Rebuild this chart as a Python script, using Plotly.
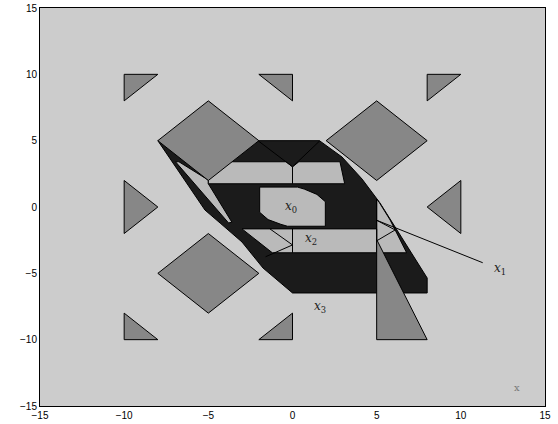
import plotly.graph_objects as go

# ---------------- colours ----------------
BG = "#cccccc"
MID = "#878787"
DARK = "#1b1b1b"
LIGHT = "#bababa"

# ---------------- data (polygon vertices) ----------------
# large dark region (union of polytopes)
dark_x = [-8, -2, 1.6, 2.94, 4.13, 5.2, 6.2, 8, 8, 0, -1.75, -3.0, -4.3, -5.2]
dark_y = [5, 5, 5, 3.77, 2.11, 0.3, -1.73, -5.35, -6.48, -6.48, -4.6, -2.64, -1.21, -0.23]

# light regions
sliver_x = [-6.95, -6.75, -5.0, -5.0, -3.6, -3.8]
sliver_y = [3.41, 3.41, 2.03, 1.75, -1.15, -1.2]

band_top_x = [-5.0, -0.38, 0.0, 0.38, 2.82, 3.1, -5.0]
band_top_y = [3.41, 3.41, 3.03, 3.41, 3.41, 1.75, 1.75]

x0_x = [-1.95, 0.3, 0.7, 1.45, 1.95, 1.95, -0.3, -0.7, -1.45, -1.95]
x0_y = [1.5, 1.5, 1.35, 0.95, 0.4, -1.45, -1.45, -1.3, -0.95, -0.4]

band_midleft_x = [-3.0, 0.0, 0.0, -1.2]
band_midleft_y = [-1.65, -1.65, -3.45, -3.45]

band_x2_x = [0.0, 5.0, 5.0, 0.0]
band_x2_y = [-1.65, -1.65, -3.45, -3.45]

band_right_x = [5.0, 5.15, 5.8, 6.78, 5.0]
band_right_y = [0.6, 0.35, -0.98, -3.45, -3.45]

# medium grey diamonds
diamonds_x = [[-8, -5, -2, -5], [2, 5, 8, 5], [-8, -5, -2, -5]]
diamonds_y = [[5, 8, 5, 2], [5, 8, 5, 2], [-5, -2, -5, -8]]

# medium grey triangles
tris_x = [[-10, -8, -10], [-2, 0, 0], [8, 10, 8],
          [-10, -8, -10], [8, 10, 10],
          [-10, -10, -8], [0, 0, -2], [5, 5, 8]]
tris_y = [[10, 10, 8], [10, 10, 8], [10, 10, 8],
          [2, 0, -2], [0, 2, -2],
          [-8, -10, -10], [-8, -10, -10], [-2.45, -10, -10]]

# inner boundary segments
seg_x = [[-2.05, 0.0, 1.63], [0.0, 0.0], [-1.34, 0.0, -1.6],
         [5.0, 6.1, 5.0], [5.0, 5.0]]
seg_y = [[5.0, 3.03, 5.0], [3.03, 1.75], [-1.65, -2.86, -3.75],
         [-1.0, -1.73, -2.55], [0.6, -3.45]]

# pointer line to x1
ptr_x = [5.0, 11.3]
ptr_y = [-1.0, -4.2]

# labels
lab_text = ["<i>x</i><sub>0</sub>", "<i>x</i><sub>1</sub>", "<i>x</i><sub>2</sub>", "<i>x</i><sub>3</sub>"]
lab_x = [-0.1, 12.35, 1.1, 1.65]
lab_y = [0.0, -4.65, -2.4, -7.5]

tick_vals = [-15, -10, -5, 0, 5, 10, 15]
tick_text = ["\u221215", "\u221210", "\u22125", "0", "5", "10", "15"]

# ---------------- figure ----------------
fig = go.Figure()


def poly(xs, ys, color):
    fig.add_trace(go.Scatter(
        x=list(xs) + [xs[0]], y=list(ys) + [ys[0]],
        mode="lines", fill="toself", fillcolor=color,
        line=dict(color="black", width=1), hoverinfo="skip", showlegend=False))


poly(dark_x, dark_y, DARK)
poly(sliver_x, sliver_y, LIGHT)
poly(band_top_x, band_top_y, LIGHT)
poly(x0_x, x0_y, LIGHT)
poly(band_midleft_x, band_midleft_y, LIGHT)
poly(band_right_x, band_right_y, LIGHT)
poly(band_x2_x, band_x2_y, LIGHT)

for sx, sy in zip(seg_x, seg_y):
    fig.add_trace(go.Scatter(x=sx, y=sy, mode="lines",
                             line=dict(color="black", width=1),
                             hoverinfo="skip", showlegend=False))

for dx, dy in zip(diamonds_x, diamonds_y):
    poly(dx, dy, MID)
for tx, ty in zip(tris_x, tris_y):
    poly(tx, ty, MID)

fig.add_trace(go.Scatter(x=ptr_x, y=ptr_y, mode="lines",
                         line=dict(color="black", width=1),
                         hoverinfo="skip", showlegend=False))

for t, lx, ly in zip(lab_text, lab_x, lab_y):
    fig.add_annotation(x=lx, y=ly, text=t, showarrow=False,
                       font=dict(family="DejaVu Serif", size=12, color="#222222"))

fig.add_annotation(x=13.35, y=-13.6, text="x", showarrow=False,
                   font=dict(family="DejaVu Serif", size=10, color="#777777"))

axis_common = dict(
    range=[-15, 15], tickvals=tick_vals, ticktext=tick_text,
    showgrid=False, zeroline=False, showline=True, mirror=True,
    linecolor="black", linewidth=1, ticks="", automargin=False,
    tickfont=dict(family="Liberation Sans", size=10, color="black"),
)

fig.update_layout(
    width=558, height=424,
    margin=dict(l=40, r=13, t=8, b=18, autoexpand=False),
    paper_bgcolor="white", plot_bgcolor=BG,
    xaxis=dict(**axis_common),
    yaxis=dict(**axis_common),
)

fig.write_html(
    "out.html",
    config={"displayModeBar": False},
    post_script="document.body.style.margin='0px';document.body.style.overflow='hidden';",
)
